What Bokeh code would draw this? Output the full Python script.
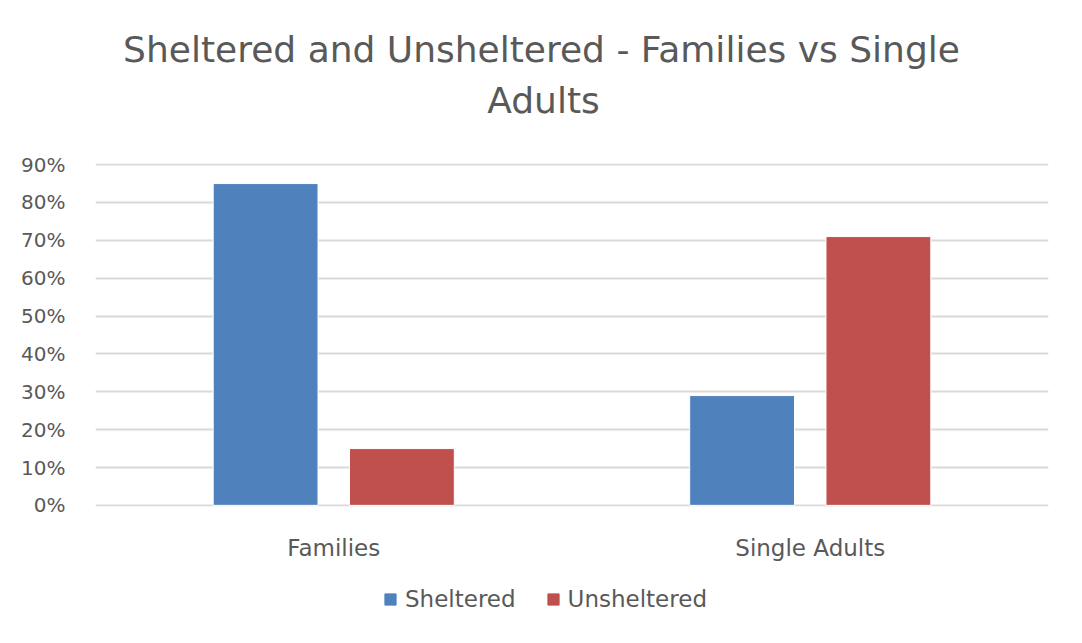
from bokeh.plotting import figure
from bokeh.layouts import column
from bokeh.models import FactorRange, Label, Legend, LegendItem, NumeralTickFormatter, ColumnDataSource, FixedTicker, Range1d
from bokeh.transform import dodge
from bokeh.embed import file_html
from bokeh.resources import INLINE

categories = ["Families", "Single Adults"]
sheltered = [0.85, 0.29]
unsheltered = [0.15, 0.71]
series_names = ["Sheltered", "Unsheltered"]
y_ticks = [0.0, 0.1, 0.2, 0.3, 0.4, 0.5, 0.6, 0.7, 0.8, 0.9]
title_lines = ["Sheltered and Unsheltered - Families vs Single", "Adults"]

BLUE = "#4f81bd"
RED = "#c0504d"
TXT = "#595959"
FONT = "DejaVu Sans"
W = 1066
FRAME_LEFT = 95  # plot frames in the column are aligned at this offset

# ---- title strip ----
pt = figure(width=W, height=130, output_backend="svg", toolbar_location=None,
            x_axis_type=None, y_axis_type=None, min_border=0,
            x_range=Range1d(0, 1), y_range=Range1d(0, 1))
pt.outline_line_color = None
pt.grid.visible = False
pt.add_layout(Label(x=541 - FRAME_LEFT, y=81, x_units="screen", y_units="screen", text=title_lines[0],
                    text_align="center", text_baseline="middle", text_font=FONT,
                    text_font_size="36px", text_color=TXT))
pt.add_layout(Label(x=543 - FRAME_LEFT, y=30, x_units="screen", y_units="screen", text=title_lines[1],
                    text_align="center", text_baseline="middle", text_font=FONT,
                    text_font_size="36px", text_color=TXT))

# ---- main chart ----
src = ColumnDataSource(dict(cat=categories, sheltered=sheltered, unsheltered=unsheltered))
p = figure(width=W, height=445, x_range=FactorRange(*categories, range_padding=0),
           y_range=Range1d(-0.003, 0.903), output_backend="svg", toolbar_location=None,
           min_border_left=FRAME_LEFT, min_border_right=18, min_border_top=33, min_border_bottom=69)

p.vbar(x=dodge("cat", -0.143, range=p.x_range), top="sheltered", width=0.22, source=src,
       fill_color=BLUE, line_color="#ffffff", line_width=1)
p.vbar(x=dodge("cat", 0.143, range=p.x_range), top="unsheltered", width=0.22, source=src,
       fill_color=RED, line_color="#ffffff", line_width=1)

p.outline_line_color = None
p.xgrid.grid_line_color = None
p.ygrid.grid_line_color = "#d9d9d9"
p.ygrid.grid_line_width = 2
p.ygrid.level = "underlay"

p.yaxis.ticker = FixedTicker(ticks=y_ticks)
p.yaxis.formatter = NumeralTickFormatter(format="0%")
for ax in (p.xaxis, p.yaxis):
    ax.axis_line_color = None
    ax.major_tick_line_color = None
    ax.minor_tick_line_color = None
    ax.major_label_text_color = TXT
    ax.major_label_text_font = FONT
p.yaxis.major_label_text_font_size = "20px"
p.xaxis.major_label_text_font_size = "23px"
p.yaxis.major_label_standoff = 24
p.xaxis.major_label_standoff = 22

# ---- legend strip ----
pl = figure(width=W, height=52, output_backend="svg", toolbar_location=None,
            x_axis_type=None, y_axis_type=None, min_border=0,
            x_range=Range1d(0, 1), y_range=Range1d(0, 1))
pl.outline_line_color = None
pl.grid.visible = False
# legend swatches only: these bars lie outside the strip's visible range
lr1 = pl.vbar(x=[-10], bottom=[-11], top=[-10], width=0.5, fill_color=BLUE, line_color=BLUE)
lr2 = pl.vbar(x=[-10], bottom=[-11], top=[-10], width=0.5, fill_color=RED, line_color=RED)
legend = Legend(items=[LegendItem(label=series_names[0], renderers=[lr1]),
                       LegendItem(label=series_names[1], renderers=[lr2])],
                orientation="horizontal", location=(383 - FRAME_LEFT, 15),
                label_text_font=FONT, label_text_font_size="23px", label_text_color=TXT,
                glyph_width=14, glyph_height=14, spacing=30, label_standoff=8,
                border_line_color=None, background_fill_alpha=0, margin=0, padding=0)
pl.add_layout(legend)

layout = column(pt, p, pl, spacing=0)
open("out.html", "w").write(file_html(layout, INLINE))
